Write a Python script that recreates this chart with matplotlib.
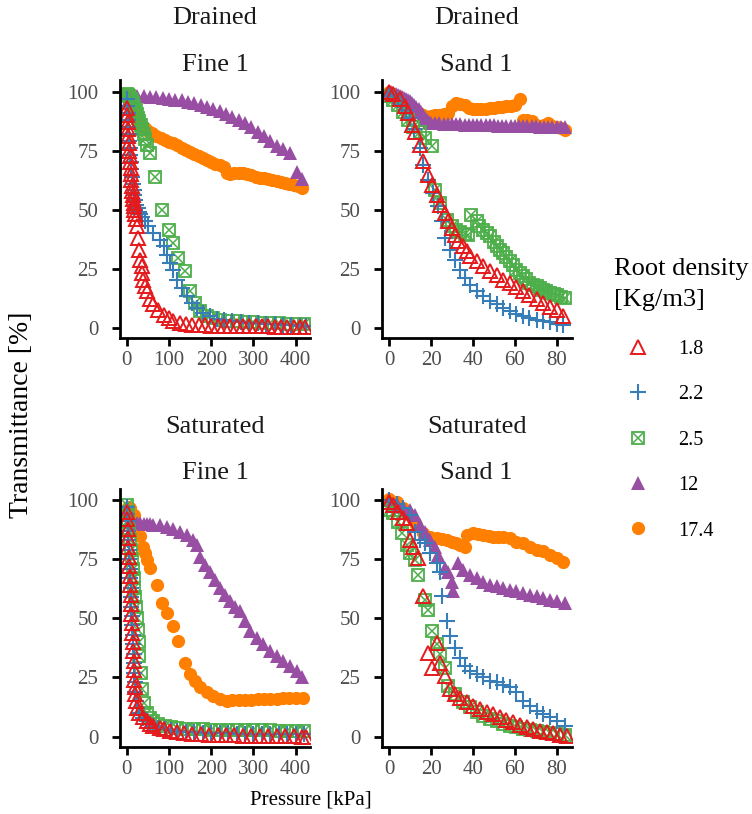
import matplotlib
matplotlib.use("Agg")
import matplotlib.pyplot as plt
from matplotlib.lines import Line2D
from matplotlib.legend_handler import HandlerTuple

plt.rcParams["font.family"] = ["Liberation Serif", "DejaVu Serif"]

densities = ["1.8", "2.2", "2.5", "12", "17.4"]
fine_ticks = [0, 100, 200, 300, 400]
sand_ticks = [0, 20, 40, 60, 80]
y_ticks = [0, 25, 50, 75, 100]

# ---- Drained / Fine 1 ----
df_p_18 = [0, 1, 2, 3, 4, 5, 6, 7, 8, 9, 10, 11, 12, 13, 14, 15, 16, 17, 18, 20, 22, 24, 27, 28, 31, 35, 36,
           39, 43, 47, 55, 63, 75, 87, 99, 110, 126, 140, 155, 170, 185, 200, 215, 230, 245, 260, 275, 290,
           305, 320, 335, 350, 365, 380, 395, 410, 422]
df_t_18 = [93, 90, 87, 84, 81, 78, 75, 72.5, 70, 67.5, 65, 62.5, 60, 58, 56, 54.5, 53, 51.5, 50, 48, 46, 43, 38,
           33, 28.9, 26, 23.2, 20.4, 17.6, 15.5, 12, 9.9, 7.7, 5.6, 4.2, 2.8, 2.1, 1.6, 1.3, 1.1, 1, 0.9, 0.9,
           0.8, 0.8, 0.7, 0.7, 0.7, 0.6, 0.6, 0.6, 0.5, 0.5, 0.5, 0.4, 0.4, 0.4]
df_p_22 = [0, 1, 2, 3, 4, 5, 6, 7, 8, 9, 10, 12, 14, 16, 18, 20, 23, 26, 29, 32, 35, 43, 51, 63, 79, 87, 95,
           103, 110, 118, 130, 142, 154, 166, 181, 197, 213, 230, 250, 270, 290, 310, 330, 350, 370, 390, 410, 425]
df_t_22 = [97, 94, 91, 88, 85, 82, 79, 76, 73, 70, 67, 64, 61, 58.5, 56, 54, 52, 50.5, 49, 48, 47, 45, 43, 40,
           37, 34.5, 31, 27.5, 24.6, 20.4, 17, 13.4, 10.6, 8.5, 6.3, 4.9, 3.8, 3.2, 2.8, 2.5, 2.2, 2, 1.8, 1.5,
           1.3, 1.1, 0.9, 0.6]
df_p_25 = [0, 3, 6, 9, 12, 15, 18, 21, 24, 27, 30, 33, 36, 40, 44, 48, 55, 67, 83, 99, 110, 122, 138, 150,
           162, 174, 190, 205, 220, 240, 260, 280, 300, 320, 340, 360, 380, 400, 420]
df_t_25 = [99, 98.5, 98, 97, 96, 95, 93.5, 92, 90.5, 89, 87.5, 86, 84, 82, 80, 77.5, 74, 64, 50, 41.5, 36, 29.6,
           24, 15.5, 10.6, 7, 5, 4, 3.5, 3, 2.8, 2.6, 2.4, 2.2, 2, 1.9, 1.8, 1.6, 1.5]
df_p_12 = [0, 8, 16, 25, 40, 55, 70, 85, 100, 115, 130, 145, 160, 175, 190, 205, 220, 235, 250, 265, 280, 295,
           310, 325, 340, 355, 370, 387, 402, 414]
df_t_12 = [95, 97, 98, 98.2, 98, 97.8, 97.5, 97.2, 97, 96.6, 96.2, 95.7, 95, 94.3, 93.5, 92.6, 91.6, 90.5, 89.3,
           88, 86.5, 84.8, 83, 81, 79, 77, 75.5, 74, 66, 63]
df_p_174 = [2, 6, 10, 15, 20, 25, 30, 36, 42, 50, 60, 70, 80, 90, 100, 110, 120, 130, 140, 150, 160, 170, 180,
            190, 200, 210, 220, 230, 238, 245, 255, 265, 275, 285, 295, 305, 315, 325, 335, 345, 355, 365, 375,
            385, 395, 405, 414]
df_t_174 = [98, 96, 94, 91.5, 89, 87.5, 86.3, 85.3, 84.5, 83.5, 82.3, 81.3, 80.5, 79.6, 78.8, 78, 77.2, 76.3,
            75.4, 74.6, 73.7, 72.8, 72, 71, 70.3, 69.5, 68.7, 68, 65.5, 65.3, 65.5, 65.6, 65.5, 65, 64.5, 64,
            63.6, 63.2, 62.8, 62.4, 62, 61.6, 61.2, 60.8, 60.4, 60, 59]

# ---- Drained / Sand 1 ----
ds_p_18 = [0, 2, 5, 7.5, 9, 10.7, 12.3, 14.6, 16.2, 18.6, 20.2, 22.6, 24.2, 26.6, 28.2, 29.8, 31.4, 33, 35.4,
           37, 38.5, 41.7, 45, 48, 51.3, 54.5, 57.6, 60.8, 64, 67, 70.4, 73.6, 76.8, 80, 83]
ds_t_18 = [100, 99, 97, 93.7, 91, 86, 83, 77.5, 70.4, 64.8, 60.6, 56.3, 52, 48.6, 45, 42.3, 39.4, 36.6, 34.5,
           32.4, 30.3, 28.2, 26, 24, 22.5, 20.4, 19, 17.3, 15.5, 14, 12, 10.6, 8.9, 7.5, 5.2]
ds_p_22 = [0, 2, 4, 6, 8, 10, 12, 14.6, 16.2, 18.6, 21, 23.4, 25, 26.6, 29, 31.4, 33.8, 36, 38.5, 41.7, 45, 48,
           51.3, 54.5, 57.6, 60.8, 64, 67, 70.4, 73.6, 76.8, 80, 83]
ds_t_22 = [99, 98, 96.5, 94.5, 92, 89, 84, 76, 69, 62.7, 57, 51.4, 45, 38, 33, 28.9, 24.6, 21, 18.3, 15.5, 13.4,
           11.3, 9.9, 8.5, 7, 5.9, 4.9, 4.2, 3.5, 2.8, 2.4, 1.8, 1.4]
ds_p_25 = [0, 2, 4.3, 6.7, 9, 11.5, 14.6, 17, 20.2, 21.8, 24.2, 27.4, 30, 32, 34, 36, 37.7, 39.3, 41.7, 43, 45,
           46.5, 48, 50, 51.3, 53, 54.5, 56, 57.6, 59, 60.8, 62.5, 64, 65.5, 67, 68.5, 70.4, 72, 73.6, 75, 76.8,
           78.5, 80, 82, 84]
ds_t_25 = [98, 96.5, 94.4, 91.5, 88, 85, 83, 80.3, 76.8, 58.5, 52.8, 45.8, 43, 41.5, 40.5, 39.8, 39.4, 47.9, 45,
           43.2, 41.5, 40, 38.7, 36.5, 34.5, 33, 31.7, 30, 28.2, 26.5, 24.6, 23.2, 21.8, 20.5, 19, 18.2, 17.6,
           16.9, 16.2, 15.5, 14.8, 14.2, 13.7, 13.2, 12.7]
ds_p_12 = [0, 1, 2, 3, 4, 5, 6, 7, 8, 9, 10, 11, 12, 13, 14, 15, 16, 17, 18, 19, 20, 22, 24, 26, 28, 30, 32, 34,
           36, 38, 40, 42, 44, 46, 48, 50, 52, 54, 56, 58, 60, 62, 64, 66, 68, 70, 72, 74, 76, 78, 80, 82, 84]
ds_t_12 = [100, 99.7, 99.4, 99, 98.6, 98.2, 97.8, 97.4, 97, 96.5, 96, 95, 94.2, 93.4, 92.5, 91.5, 90.2, 89, 88,
           87.3, 86.8, 86.6, 86.5, 86.4, 86.3, 86.2, 86.2, 86.1, 86, 86, 85.9, 85.9, 85.8, 85.8, 85.7, 85.7, 85.6,
           85.6, 85.5, 85.5, 85.4, 85.4, 85.3, 85.3, 85.2, 85.2, 85.1, 85.1, 85, 85, 84.9, 84.9, 84.8]
ds_p_174 = [0, 2, 4, 6, 8, 10, 12, 14, 16, 18, 20, 22, 24, 26, 28, 30, 32, 34, 36, 38, 40, 42, 44, 46, 48, 50,
            52, 54, 56, 58, 60, 62.5, 64, 66, 68, 70, 72, 74, 76, 78, 80, 82, 84]
ds_t_174 = [100, 99, 98, 97, 95.5, 94, 92.5, 91, 90, 89, 89.5, 90, 90.2, 90.5, 90.7, 94, 95, 94.8, 94.3, 93,
            92.8, 92.5, 92.5, 92.7, 93, 93.2, 93.4, 93.5, 93.7, 94, 94.4, 96.8, 88, 87.8, 87.5, 86, 85.5, 85.8,
            86.5, 85.4, 85, 84.5, 83.8]

# ---- Saturated / Fine 1 ----
sf_p_18 = [0, 1, 2, 3, 4, 5, 6, 7, 8, 9, 10, 11, 12, 13, 14, 15, 16, 17, 18, 19, 20, 22, 24, 30, 39, 47, 55, 63,
           79, 87, 103, 118, 135, 155, 175, 195, 215, 235, 255, 275, 295, 315, 335, 355, 375, 395, 415, 425]
sf_t_18 = [95, 92, 88, 84, 80, 76, 72, 68, 64, 60, 56, 52, 48, 44, 40, 36, 32, 28, 24, 21, 18, 15, 12, 10, 8.1,
           6.7, 5.5, 4.5, 3.5, 3, 2.5, 1.8, 1.5, 1.2, 1, 0.8, 0.7, 0.6, 0.5, 0.4, 0.3, 0.3, 0.2, 0.2, 0.1, 0.1,
           0, -0.2]
sf_p_22 = [0, 1, 2, 3, 4, 5, 6, 7, 8, 9, 10, 11, 12, 13, 14, 15, 16, 17, 18, 19, 20, 22, 25, 30, 38, 47, 55, 63,
           75, 90, 105, 120, 140, 160, 180, 200, 220, 240, 260, 280, 300, 320, 340, 360, 380, 400, 420]
sf_t_22 = [97, 94, 91, 87, 83, 79, 75, 71, 67, 63, 59, 55, 51, 47, 43, 39, 35, 31, 27, 23, 19, 15, 12, 10, 8,
           6.5, 5.5, 4.5, 3.8, 3.2, 2.7, 2.3, 2, 1.8, 1.6, 1.5, 1.4, 1.3, 1.2, 1.2, 1.1, 1.1, 1, 1, 1, 0.9, 0.9]
sf_p_25 = [0, 2, 4, 6, 8, 10, 12, 14, 16, 18, 20, 22, 24, 26, 28, 30, 33, 36, 40, 47, 55, 63, 75, 90, 105, 120,
           140, 160, 180, 200, 220, 240, 260, 280, 300, 320, 340, 360, 380, 400, 420]
sf_t_25 = [98, 95, 91, 87, 83, 79, 75, 71, 67, 63, 59, 55, 50, 45, 40, 34, 27, 20, 14, 10, 8, 6.5, 5.5, 4.6, 4,
           3.6, 3.3, 3.1, 3, 2.9, 2.8, 2.8, 2.7, 2.7, 2.6, 2.6, 2.6, 2.5, 2.5, 2.5, 2.5]
sf_p_12 = [0, 3, 8, 16, 24, 32, 40, 48, 56, 63, 79, 95, 110, 126, 142, 158, 166, 174, 185, 197, 209, 221, 233,
           245, 256, 268, 280, 292, 308, 323, 339, 355, 371, 387, 402, 414]
sf_t_12 = [97, 94, 92, 90.5, 90.3, 90.2, 90, 90, 89.8, 89.7, 89.5, 88.8, 88, 86.7, 85.3, 83.2, 81, 76, 72.6,
           69.8, 66.3, 62.8, 60, 57.2, 55, 53, 48.8, 44.6, 41.8, 39, 36.2, 34, 32, 30, 27.8, 25]
sf_p_174 = [2, 8, 16, 24, 31.6, 39.4, 43, 47, 55, 71, 83, 95, 110, 122, 138, 150, 162, 174, 189, 205, 221, 237,
            250, 265, 280, 295, 310, 325, 340, 355, 370, 385, 400, 418]
sf_t_174 = [97, 96.5, 93.7, 89.5, 85, 80, 77.6, 74.8, 71.2, 64.2, 56.5, 52.3, 46.7, 40.4, 31.3, 26.4, 23.6, 20.8,
            18.7, 17.3, 15.8, 15.1, 15.3, 15.5, 15.6, 15.5, 15.7, 15.9, 16, 16, 16.2, 16.3, 16.4, 16.5]

# ---- Saturated / Sand 1 ----
ss_p_18 = [0, 2, 4.3, 6.7, 8.3, 9.9, 11.5, 13.9, 16.2, 18.6, 20.2, 22.6, 24.2, 26.6, 29, 31.4, 33.8, 37, 40,
           43.3, 46.5, 49.7, 52.9, 56, 59.2, 62.4, 65.6, 68.8, 72, 75.2, 78.3, 81.5, 84.7]
ss_t_18 = [99.3, 97.9, 95, 92.3, 90.2, 83.2, 80.4, 75.5, 59.3, 35.5, 29.2, 39.7, 31.3, 25.7, 20, 18, 16.5, 14.4,
           13, 11.6, 10.2, 9.5, 8.1, 7, 6, 5, 3.9, 3.2, 2.5, 1.8, 1.4, 0.8, 0.4]
ss_p_22 = [0, 3.5, 6.7, 9.9, 12.3, 14.6, 17, 19.4, 22.6, 24.2, 25, 27.4, 29, 31.4, 33.8, 36, 38.5, 41.7, 45, 48,
           51.3, 54.5, 57.6, 60.8, 64, 67.2, 70.4, 73.6, 76.8, 80, 84]
ss_t_22 = [100, 98.6, 96.5, 93.7, 86.7, 83.2, 81.8, 77.6, 73.4, 69.8, 59.3, 48.8, 42.5, 37.6, 33.4, 29.9, 27.8,
           26.4, 25, 23.6, 22.9, 21.9, 20.8, 18.7, 15.1, 13, 10.9, 9.5, 8.1, 6.7, 4.6]
ss_p_25 = [0, 2, 4.3, 5.9, 8.3, 9.9, 12.3, 13.9, 17, 18.6, 20.2, 22.6, 24.2, 26.6, 28.2, 31.4, 35.4, 38.5, 41.7,
           45, 48, 51.3, 54.5, 57.6, 60.8, 64, 67.2, 70.4, 73.6, 76.8, 80, 84]
ss_t_25 = [95.8, 94.4, 90.9, 86, 81, 77.6, 74.8, 68.4, 57.9, 53.7, 44.6, 39, 34.8, 29.2, 21.5, 18, 14.4, 12.3,
           10.2, 8.8, 7.4, 6.5, 5.3, 4.6, 3.9, 3.2, 2.8, 2.2, 1.8, 1.4, 1.1, 0.8]
ss_p_12 = [0, 3.5, 6.7, 9.9, 12.3, 14.6, 17, 19.4, 21.8, 23.4, 26.6, 28.2, 29.8, 30.6, 33, 35.4, 38.5, 41.7, 45,
           48, 51.3, 54.5, 57.6, 60.8, 64, 67.2, 70.4, 73.6, 76.8, 80, 84]
ss_t_12 = [100, 98.6, 97.2, 95.8, 93.7, 89.5, 86.7, 83.2, 80.4, 76.9, 71.2, 69.8, 65.6, 61.4, 73.4, 70.5, 68.4,
           67, 65.6, 64.2, 63.5, 62.8, 62.1, 61.4, 60.7, 60, 59.3, 58.6, 57.9, 57.2, 56.5]
ss_p_174 = [0, 3.5, 6.7, 9.9, 13, 16.2, 19.4, 22.6, 25, 27.4, 30, 32, 34, 36, 37, 40, 42.5, 45, 47.5, 49.7, 52,
            54.5, 57.6, 60.8, 64, 67.2, 70.4, 73.6, 76.8, 80, 83]
ss_t_174 = [100.5, 99.3, 96.5, 93.7, 89.5, 86, 84.6, 83.9, 83.5, 83.2, 82.5, 81.8, 81, 80.4, 85.3, 86, 85.7,
            85.3, 85, 84.6, 84.6, 84.6, 83.9, 82.5, 81.8, 80.4, 79, 78.3, 76.9, 75.5, 74]

RED, BLUE, GREEN, PURPLE, ORANGE = "#E41A1C", "#377EB8", "#4DAF4A", "#984EA3", "#FF7F00"
GREY = "#4D4D4D"
STRIP = "#1A1A1A"


def marker_styles(key):
    """Matplotlib kwargs for one root density (list, because 2.5 is two overlaid markers)."""
    if key == "1.8":
        return [dict(marker="^", ms=10, mfc="none", mec=RED, mew=1.4)]
    if key == "2.2":
        return [dict(marker="+", ms=11, mec=BLUE, mew=1.5)]
    if key == "2.5":
        return [dict(marker="s", ms=8, mfc="none", mec=GREEN, mew=1.3),
                dict(marker="x", ms=7, mec=GREEN, mew=1.1)]
    if key == "12":
        return [dict(marker="^", ms=10, mfc=PURPLE, mec=PURPLE, mew=0)]
    return [dict(marker="o", ms=9.5, mfc=ORANGE, mec=ORANGE, mew=0)]


panels = [
    dict(rect=[0.1596, 0.5848, 0.2527, 0.317], strip=("Drained", "Fine 1"), ticks=fine_ticks, xlim=(-16, 434),
         series={"1.8": (df_p_18, df_t_18), "2.2": (df_p_22, df_t_22), "2.5": (df_p_25, df_t_25),
                 "12": (df_p_12, df_t_12), "17.4": (df_p_174, df_t_174)}),
    dict(rect=[0.5076, 0.5848, 0.2527, 0.317], strip=("Drained", "Sand 1"), ticks=sand_ticks, xlim=(-3.6, 87.2),
         series={"1.8": (ds_p_18, ds_t_18), "2.2": (ds_p_22, ds_t_22), "2.5": (ds_p_25, ds_t_25),
                 "12": (ds_p_12, ds_t_12), "17.4": (ds_p_174, ds_t_174)}),
    dict(rect=[0.1596, 0.0827, 0.2527, 0.317], strip=("Saturated", "Fine 1"), ticks=fine_ticks, xlim=(-16, 434),
         series={"1.8": (sf_p_18, sf_t_18), "2.2": (sf_p_22, sf_t_22), "2.5": (sf_p_25, sf_t_25),
                 "12": (sf_p_12, sf_t_12), "17.4": (sf_p_174, sf_t_174)}),
    dict(rect=[0.5076, 0.0827, 0.2527, 0.317], strip=("Saturated", "Sand 1"), ticks=sand_ticks, xlim=(-3.6, 87.2),
         series={"1.8": (ss_p_18, ss_t_18), "2.2": (ss_p_22, ss_t_22), "2.5": (ss_p_25, ss_t_25),
                 "12": (ss_p_12, ss_t_12), "17.4": (ss_p_174, ss_t_174)}),
]

fig = plt.figure(figsize=(7.52, 8.14), dpi=100)

for panel in panels:
    ax = fig.add_axes(panel["rect"])
    # draw the high-density series first so 1.8 ends up on top
    for key in reversed(densities):
        p, t = panel["series"][key]
        for style in marker_styles(key):
            ax.plot(p, t, ls="none", **style)
    ax.set_xlim(*panel["xlim"])
    ax.set_ylim(-4.3, 104.9)
    ax.set_xticks(panel["ticks"])
    ax.set_yticks(y_ticks)
    for side in ("top", "right"):
        ax.spines[side].set_visible(False)
    for side in ("left", "bottom"):
        ax.spines[side].set_linewidth(2.0)
    ax.tick_params(axis="both", length=5.5, width=2.0, labelsize=15, labelcolor=GREY)
    ax.tick_params(axis="y", pad=10)
    ax.tick_params(axis="x", pad=4)

    # two-line facet strip above the panel
    x0, y0, w, h = panel["rect"]
    top = y0 + h
    fig.text(x0 + w / 2, top + 0.0687, panel["strip"][0], ha="center", va="baseline", fontsize=19, color=STRIP)
    fig.text(x0 + w / 2, top + 0.0115, panel["strip"][1], ha="center", va="baseline", fontsize=19, color=STRIP)

fig.text(0.029, 0.49, "Transmittance [%]", rotation=90, ha="center", va="center", fontsize=20)
fig.text(0.4136, 0.0172, "Pressure [kPa]", ha="center", va="center", fontsize=15)

# legend: title as plain text, keys through fig.legend
fig.text(0.8165, 0.6622, "Root density", ha="left", va="baseline", fontsize=19)
fig.text(0.8165, 0.6241, "[Kg/m3]", ha="left", va="baseline", fontsize=19)

handles = []
for key in densities:
    parts = tuple(Line2D([], [], ls="none", **style) for style in marker_styles(key))
    handles.append(parts if len(parts) > 1 else parts[0])

fig.legend(handles, densities, handler_map={tuple: HandlerTuple(ndivide=1)},
           loc="upper left", bbox_to_anchor=(0.8165, 0.5829),
           frameon=False, borderpad=0, borderaxespad=0, handlelength=2.4, handletextpad=0.8,
           labelspacing=1.31, fontsize=14.5)

fig.savefig("out.png", dpi=100, facecolor="white")
